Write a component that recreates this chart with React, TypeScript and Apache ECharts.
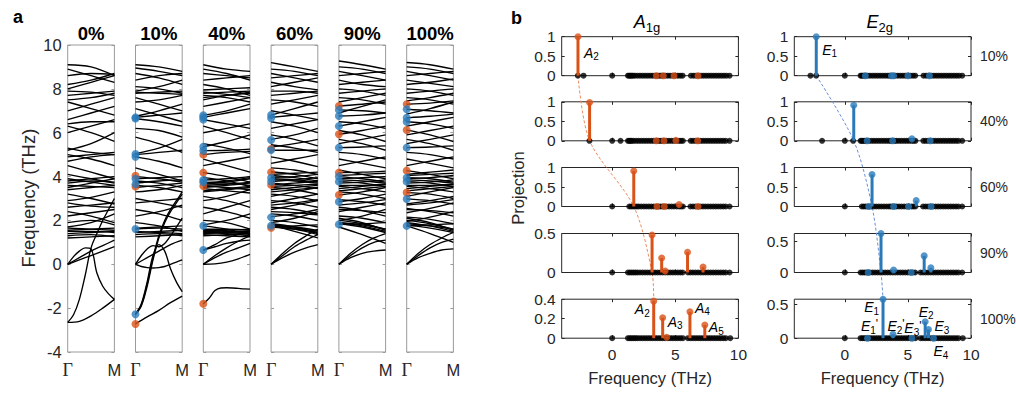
import React, { useEffect, useRef } from 'react';
import * as echarts from 'echarts';

const FONT = '"Liberation Sans", Arial, Helvetica, sans-serif';
const SERIF = '"Liberation Serif", "DejaVu Serif", serif';
const TXT = '#262626';
const ORANGE = '#d95319';
const BLUE = '#2a7ab9';

// ---------- panel a ----------
const dopingLabels = ['0%', '10%', '40%', '60%', '90%', '100%'];
const kTickLabels = ['Γ', 'M'];

// each band: frequencies (THz) at evenly spaced k from Γ to M
const bands0: number[][] = [
  [-2.65, -2.6, -2.35, -2.0, -1.6],
  [-2.65, -2.3, -1.6, -0.5, 0.75, 1.4, 2.0, 2.5, 3.0],
  [0, 0.35, 0.6, 0.75, 0.7, -0.4, -1.0, -1.35, -1.6],
  [0, 0.2, 0.4, 0.6, 0.8],
  [0, 0.3, 0.6, 0.85, 1.1],
  [1.2, 1.25, 1.3], [1.3, 1.35, 1.25], [1.4, 1.45, 1.5], [1.5, 1.5, 1.45], [1.55, 1.6, 1.65],
  [1.65, 1.6, 1.55], [1.7, 1.9, 2.3], [1.9, 2.0, 1.8], [2.2, 2.35, 2.5], [2.4, 2.2, 1.9],
  [2.6, 2.7, 2.8], [2.8, 2.65, 2.6], [2.9, 3.05, 3.3], [3.2, 3.0, 2.75], [3.4, 3.5, 3.6],
  [3.5, 3.7, 3.9], [3.6, 3.55, 3.5], [3.7, 3.8, 3.75], [3.8, 3.9, 4.0], [3.9, 3.75, 3.6],
  [4.1, 3.9, 3.7], [4.5, 4.2, 3.9], [4.7, 4.9, 5.0], [4.9, 5.0, 5.1], [5.0, 4.8, 4.5],
  [5.2, 5.5, 6.0], [5.3, 5.1, 5.0], [6.0, 6.3, 6.6], [6.3, 6.0, 5.6], [6.4, 6.5, 6.5],
  [6.6, 6.9, 7.2], [7.0, 7.3, 7.6], [7.4, 7.1, 6.8], [7.5, 7.6, 7.8], [7.7, 7.8, 7.9],
  [7.9, 7.85, 7.7], [8.0, 8.3, 8.6], [8.2, 8.4, 8.7], [8.6, 8.7, 8.65], [8.9, 8.6, 8.3],
  [9.1, 9.0, 8.6],
];
const bands10: number[][] = [
  [-2.72, -2.4, -2.1, -1.75, -1.45],
  [-2.28, -1.9, -1.0, 0.2, 1.2, 1.9, 2.4, 2.8, 3.2],
  [-2.28, -1.85, -0.9, 0.3, 1.3, 2.0, 2.5, 2.9, 3.3],
  [-2.28, -1.8, -0.8, 0.4, 0.9, 0.6, -0.2, -0.8, -1.25],
  [0, 0.4, 0.7, 0.85, 0.8, 0.95, 1.3, 1.7, 2.1],
  [0, -0.1, -0.15, -0.17, -0.15, -0.1, 0, 0.1, 0.2],
  [0, 0.3, 0.6, 0.9, 1.1],
  [1.25, 1.3, 1.35], [1.35, 1.4, 1.3], [1.45, 1.5, 1.55], [1.5, 1.45, 1.4], [1.6, 1.65, 1.6],
  [1.65, 1.7, 1.75], [1.9, 1.75, 1.5], [2.2, 2.4, 2.7], [2.5, 2.3, 2.0], [2.8, 2.9, 3.0],
  [3.0, 2.8, 2.6], [3.3, 3.4, 3.6], [3.5, 3.6, 3.7], [3.6, 3.5, 3.3], [3.7, 3.8, 3.85],
  [3.8, 3.7, 3.5], [3.9, 3.95, 4.0], [4.0, 3.9, 3.75], [4.4, 4.1, 3.8], [4.9, 4.7, 4.4],
  [5.0, 5.1, 5.2], [5.05, 5.3, 5.7], [5.8, 5.5, 5.1], [6.2, 6.1, 5.8], [6.65, 6.5, 6.3],
  [6.7, 6.8, 6.9], [6.75, 7.0, 7.3], [7.1, 6.8, 6.5], [7.4, 7.5, 7.7], [7.6, 7.3, 7.0],
  [7.8, 7.85, 7.9], [7.85, 7.8, 7.75], [7.9, 8.1, 8.4], [8.1, 8.0, 7.8], [8.4, 8.6, 8.7],
  [8.7, 8.5, 8.2], [8.95, 8.8, 8.6], [9.1, 9.0, 8.8],
];
const bands40: number[][] = [
  [-1.8, -1.55, -1.2, -1.08, -1.07, -1.08, -1.1, -1.12, -1.13],
  [0, 0.02, 0.1, 0.25, 0.45],
  [0, 0.3, 0.55, 0.75, 0.95],
  [0, 0.4, 0.75, 1.05, 1.3],
  [0.65, 0.9, 1.2, 1.35, 1.45],
  [0.65, 0.8, 0.95, 1.05, 1.1],
  [1.3, 1.35, 1.4], [1.4, 1.45, 1.5], [1.45, 1.4, 1.3], [1.5, 1.55, 1.6], [1.55, 1.5, 1.45],
  [1.6, 1.6, 1.55], [1.75, 1.6, 1.35], [1.8, 2.0, 2.3], [2.0, 1.9, 1.6], [2.3, 2.6, 2.9],
  [2.6, 2.4, 2.1], [2.9, 3.1, 3.4], [3.1, 2.9, 2.6], [3.3, 3.4, 3.5], [3.5, 3.6, 3.7],
  [3.57, 3.5, 3.4], [3.65, 3.75, 3.9], [3.74, 3.7, 3.6], [3.84, 3.9, 4.0], [3.95, 3.8, 3.55],
  [4.18, 4.0, 3.75], [4.5, 4.7, 4.9], [4.8, 4.5, 4.2], [5.0, 5.1, 5.15], [5.18, 5.2, 5.25],
  [5.36, 5.6, 5.9], [5.5, 5.3, 5.05], [6.0, 6.2, 6.4], [6.3, 6.0, 5.7], [6.6, 6.4, 6.2],
  [6.7, 6.9, 7.1], [6.8, 7.0, 7.3], [7.2, 7.4, 7.6], [7.5, 7.7, 7.8], [7.7, 7.6, 7.4],
  [7.8, 7.85, 7.9], [7.95, 8.0, 8.05], [8.2, 8.0, 7.7], [8.4, 8.5, 8.6], [8.7, 8.6, 8.5],
  [8.9, 8.7, 8.4], [9.1, 8.9, 8.8],
  [1.35, 1.3, 1.25], [1.42, 1.48, 1.52], [1.52, 1.45, 1.38], [3.35, 3.45, 3.55], [3.45, 3.35, 3.25],
  [3.6, 3.65, 3.75], [3.7, 3.8, 3.95], [7.6, 7.7, 7.85], [7.85, 7.75, 7.6],
];
const bands60: number[][] = [
  [0, 0.3, 0.55, 0.75, 0.9], [0, 0.4, 0.8, 1.1, 1.35], [0, 0.5, 0.95, 1.3, 1.6], [1.8, 1.5, 1.2],
  [1.69, 1.75, 1.8], [1.79, 1.7, 1.55], [1.9, 2.1, 2.4], [2.0, 1.9, 1.7], [2.17, 2.3, 2.5],
  [2.3, 2.2, 2.0], [2.5, 2.7, 2.9], [2.6, 2.5, 2.3], [2.8, 3.0, 3.2], [2.9, 2.8, 2.6],
  [3.1, 3.3, 3.5], [3.2, 3.1, 2.9], [3.4, 3.5, 3.6], [3.5, 3.4, 3.2], [3.62, 3.7, 3.8],
  [3.7, 3.6, 3.45], [3.77, 3.85, 3.95], [3.85, 3.8, 3.7], [3.97, 4.0, 4.1], [4.05, 3.95, 3.8],
  [4.22, 4.1, 3.9], [4.4, 4.3, 4.1], [4.6, 4.8, 5.0], [4.9, 4.7, 4.45], [5.2, 5.2, 5.2],
  [5.34, 5.5, 5.7], [5.45, 5.3, 5.1], [5.7, 5.9, 6.2], [5.9, 5.7, 5.4], [6.2, 6.4, 6.6],
  [6.5, 6.3, 6.0], [6.7, 6.8, 6.9], [6.8, 7.1, 7.4], [7.0, 6.8, 6.6], [7.3, 7.5, 7.7],
  [7.5, 7.4, 7.2], [7.7, 7.8, 7.9], [7.9, 7.9, 7.8], [8.1, 8.3, 8.5], [8.3, 8.1, 7.95],
  [8.5, 8.6, 8.7], [8.7, 8.5, 8.3], [8.9, 8.8, 8.6], [9.2, 9.0, 8.8],
  [1.7, 1.6, 1.45], [1.75, 1.65, 1.5], [1.85, 1.7, 1.4], [1.72, 1.6, 1.35], [3.3, 3.4, 3.5],
  [3.55, 3.6, 3.65], [3.9, 3.85, 3.75], [4.1, 4.15, 4.2], [2.4, 2.35, 2.25], [2.7, 2.8, 2.95],
];
const bands90: number[][] = [
  [0, 0.3, 0.5, 0.6, 0.65], [0, 0.4, 0.75, 1.0, 1.1], [0, 0.5, 0.9, 1.2, 1.4], [1.7, 1.35, 0.95],
  [1.82, 1.85, 1.9], [1.9, 1.8, 1.6], [2.0, 2.2, 2.5], [2.2, 2.1, 1.9], [2.4, 2.6, 2.8],
  [2.6, 2.45, 2.2], [2.85, 3.0, 3.2], [2.95, 2.85, 2.7], [3.16, 3.3, 3.5], [3.3, 3.2, 3.0],
  [3.45, 3.55, 3.65], [3.55, 3.45, 3.3], [3.7, 3.75, 3.85], [3.77, 3.7, 3.55], [3.9, 3.95, 4.0],
  [4.0, 3.9, 3.75], [4.18, 4.2, 4.25], [4.3, 4.1, 3.9], [4.5, 4.7, 4.9], [4.8, 4.6, 4.4],
  [5.1, 5.0, 4.8], [5.32, 5.35, 5.4], [5.5, 5.7, 5.9], [5.7, 5.5, 5.2], [5.93, 6.1, 6.3],
  [6.1, 5.9, 5.6], [6.3, 6.5, 6.7], [6.5, 6.4, 6.2], [6.76, 6.8, 6.9], [6.9, 7.2, 7.5],
  [7.04, 7.0, 6.9], [7.22, 7.3, 7.4], [7.4, 7.6, 7.8], [7.6, 7.5, 7.3], [7.8, 7.9, 8.0],
  [8.0, 7.9, 7.7], [8.2, 8.3, 8.4], [8.4, 8.2, 8.1], [8.6, 8.7, 8.8], [8.8, 8.6, 8.4],
  [9.0, 8.9, 8.7], [9.27, 9.1, 8.9],
  [1.85, 1.7, 1.45], [1.9, 1.75, 1.5], [2.0, 1.85, 1.6], [2.1, 1.9, 1.55], [3.35, 3.45, 3.55],
  [3.6, 3.6, 3.65], [3.85, 3.8, 3.7], [4.05, 4.1, 4.15], [2.5, 2.45, 2.35], [2.7, 2.8, 2.95],
];
const bands100: number[][] = [
  [0, 0.3, 0.5, 0.65, 0.7], [0, 0.4, 0.75, 1.0, 1.15], [0, 0.5, 0.9, 1.2, 1.45], [1.75, 1.4, 1.0],
  [1.75, 1.8, 1.85], [1.85, 1.75, 1.6], [1.95, 2.15, 2.4], [2.15, 2.05, 1.85], [2.35, 2.55, 2.8],
  [2.55, 2.4, 2.2], [2.75, 2.9, 3.1], [2.98, 2.9, 2.75], [3.1, 3.3, 3.5], [3.27, 3.2, 3.0],
  [3.45, 3.55, 3.65], [3.55, 3.45, 3.3], [3.7, 3.75, 3.85], [3.77, 3.7, 3.55], [3.9, 3.95, 4.05],
  [3.95, 3.9, 3.75], [4.1, 4.2, 4.3], [4.27, 4.1, 3.9], [4.5, 4.7, 4.9], [4.8, 4.6, 4.4],
  [5.1, 5.0, 4.8], [5.32, 5.35, 5.4], [5.5, 5.7, 5.9], [5.7, 5.5, 5.2], [5.9, 6.1, 6.3],
  [6.12, 5.9, 5.6], [6.3, 6.5, 6.7], [6.5, 6.4, 6.2], [6.68, 6.75, 6.85], [6.85, 7.1, 7.4],
  [7.07, 7.0, 6.9], [7.3, 7.35, 7.45], [7.45, 7.6, 7.8], [7.6, 7.5, 7.3], [7.8, 7.9, 8.0],
  [8.0, 7.9, 7.7], [8.2, 8.3, 8.45], [8.4, 8.25, 8.1], [8.6, 8.7, 8.8], [8.8, 8.6, 8.4],
  [9.0, 8.9, 8.7], [9.2, 9.1, 8.9],
  [1.8, 1.65, 1.45], [1.9, 1.75, 1.5], [2.0, 1.85, 1.6], [2.1, 1.9, 1.55], [3.35, 3.45, 3.55],
  [3.6, 3.6, 3.65], [3.85, 3.8, 3.7], [4.05, 4.1, 4.15], [2.5, 2.45, 2.35], [2.7, 2.8, 2.95],
];
const allBands = [bands0, bands10, bands40, bands60, bands90, bands100];

// coloured Γ-point modes in panel a
const gammaOrange: number[][] = [
  [], [4.04, 3.54, -2.72], [5.0, 4.18, 3.57, -1.8], [5.26, 4.2, 3.62, 1.67], [7.22, 5.93, 4.18, 3.16], [7.3, 6.12, 4.27, 3.27],
];
const gammaBlue: number[][] = [
  [], [6.7, 6.65, 5.03, 4.9, 3.9, 3.65, 1.61, -2.28], [6.8, 6.7, 6.6, 5.36, 5.18, 3.84, 3.74, 1.76, 0.65],
  [6.81, 6.66, 5.67, 5.21, 3.95, 3.77, 2.14, 1.76], [7.04, 6.76, 6.3, 5.32, 4.0, 3.77, 2.85, 1.82],
  [7.07, 6.68, 6.5, 5.32, 3.95, 3.77, 2.98, 1.75],
];

// ---------- panel b ----------
const rowLabels = ['10%', '40%', '60%', '90%', '100%'];
const projXTicks = [0, 5, 10];
const modes10 = [-2.72, -2.27, 0, 1.25, 1.35, 1.45, 1.55, 1.65, 1.8, 2.0, 2.2, 2.4, 2.6, 2.8, 3.0, 3.2, 3.4, 3.55, 3.7, 3.85, 4.0, 4.2, 4.4, 4.6, 4.8, 5.0, 5.2, 5.4, 5.58, 6.24, 6.45, 6.65, 6.85, 7.05, 7.25, 7.45, 7.65, 7.85, 8.05, 8.25, 8.45, 8.65, 8.85, 9.05, 9.3];
const modes40 = [-1.8, 0, 0.66, 1.25, 1.35, 1.45, 1.55, 1.7, 1.9, 2.1, 2.3, 2.5, 2.7, 2.9, 3.1, 3.3, 3.5, 3.65, 3.8, 3.95, 4.1, 4.3, 4.5, 4.7, 4.9, 5.1, 5.3, 5.45, 5.6, 6.22, 6.4, 6.6, 6.8, 7.0, 7.2, 7.4, 7.6, 7.8, 8.0, 8.2, 8.4, 8.6, 8.8, 9.0, 9.3];
const modes60 = [0, 1.35, 1.5, 1.65, 1.8, 1.95, 2.1, 2.3, 2.5, 2.7, 2.9, 3.1, 3.3, 3.5, 3.65, 3.8, 3.95, 4.1, 4.3, 4.5, 4.7, 4.9, 5.1, 5.3, 5.45, 5.6, 6.2, 6.4, 6.6, 6.8, 7.0, 7.2, 7.4, 7.6, 7.8, 8.0, 8.2, 8.4, 8.6, 8.8, 9.0, 9.3];
const modes90 = [0, 1.25, 1.4, 1.55, 1.7, 1.85, 2.0, 2.2, 2.4, 2.6, 2.8, 3.0, 3.2, 3.4, 3.6, 3.8, 4.0, 4.2, 4.4, 4.6, 4.8, 5.0, 5.2, 5.4, 5.58, 6.0, 6.2, 6.4, 6.6, 6.8, 7.0, 7.2, 7.4, 7.6, 7.8, 8.0, 8.2, 8.4, 8.6, 8.8, 9.0, 9.3];
const modes100 = [0, 1.25, 1.4, 1.55, 1.7, 1.85, 2.0, 2.2, 2.4, 2.6, 2.8, 3.0, 3.2, 3.4, 3.6, 3.8, 4.0, 4.2, 4.4, 4.6, 4.8, 5.0, 5.2, 5.4, 5.6, 6.0, 6.2, 6.4, 6.6, 6.8, 7.0, 7.2, 7.4, 7.6, 7.8, 8.0, 8.2, 8.4, 8.6, 8.8, 9.0, 9.35];
const modesByRow = [modes10, modes40, modes60, modes90, modes100];

// [frequency, projection]; first entry of each row is the main peak
const a1gStems: number[][][] = [
  [[-2.71, 1], [3.5, 0], [4.05, 0], [4.9, 0], [6.8, 0]],
  [[-1.79, 0.98], [3.5, 0], [4.1, 0], [5.05, 0.01], [6.77, 0]],
  [[1.71, 0.91], [3.55, 0], [4.13, 0], [5.3, 0.05], [6.8, 0]],
  [[3.16, 0.48], [3.92, 0.185], [4.2, 0.02], [5.97, 0.26], [7.2, 0.07]],
  [[3.29, 0.38], [4.0, 0.21], [4.32, 0.01], [6.16, 0.27], [7.34, 0.135]],
];
const e2gStems: number[][][] = [
  [[-2.26, 1], [1.63, 0], [3.69, 0], [3.87, 0], [5.0, 0], [6.71, 0]],
  [[0.71, 0.91], [1.77, 0], [3.79, 0], [5.32, 0.05], [6.77, 0]],
  [[2.16, 0.82], [1.9, 0], [3.87, 0], [5.05, 0], [5.66, 0.15], [6.84, 0]],
  [[2.87, 0.634], [1.85, 0], [3.87, 0.04], [5.27, 0], [6.29, 0.27], [6.82, 0.075]],
  [[3.03, 0.58], [1.8, 0], [3.82, 0.06], [5.32, 0], [6.37, 0.245], [6.63, 0.13], [7.03, 0]],
];
const a1gMax = [1, 1, 1, 0.5, 0.4];
const e2gMax = [1, 1, 1, 0.634, 0.58];
const a1gYTicks = [[0, 0.5, 1], [0, 0.5, 1], [0, 0.5, 1], [0, 0.5], [0, 0.2, 0.4]];
const e2gYTicks = [[0, 0.5, 1], [0, 0.5, 1], [0, 0.5, 1], [0, 0.5], [0, 0.5]];

// stem labels: column, row, index of stem in that row
const stemLabels = [
  { c: 0, r: 0, i: 0, text: '{i|A}{s|2}', dx: 6, dy: 16, align: 'left' },
  { c: 0, r: 4, i: 0, text: '{i|A}{s|2}', dx: -4, dy: 8, align: 'right' },
  { c: 0, r: 4, i: 1, text: '{i|A}{s|3}', dx: 5, dy: 4, align: 'left' },
  { c: 0, r: 4, i: 3, text: '{i|A}{s|4}', dx: 5, dy: -4, align: 'left' },
  { c: 0, r: 4, i: 4, text: '{i|A}{s|5}', dx: 4, dy: 2, align: 'left' },
  { c: 1, r: 0, i: 0, text: '{i|E}{s|1}', dx: 6, dy: 13, align: 'left' },
  { c: 1, r: 4, i: 0, text: '{i|E}{s|1}', dx: -4, dy: 8, align: 'right' },
  { c: 1, r: 4, i: 1, text: "{i|E}{s|1}{p|'}", dx: 2, dy: -12, align: 'center' },
  { c: 1, r: 4, i: 2, text: "{i|E}{s|2}{p|'}", dx: 3, dy: -8, align: 'center' },
  { c: 1, r: 4, i: 3, text: "{i|E}{s|3}{p|'}", dx: 1, dy: -10, align: 'center' },
  { c: 1, r: 4, i: 4, text: '{i|E}{s|2}', dx: 1, dy: -10, align: 'center' },
  { c: 1, r: 4, i: 5, text: '{i|E}{s|3}', dx: 6, dy: -3, align: 'left' },
  { c: 1, r: 4, i: 6, text: '{i|E}{s|4}', dx: 0, dy: 13, align: 'left' },
];

export default function App() {
  const ref = useRef<HTMLDivElement>(null);
  useEffect(() => {
    const el = ref.current;
    if (!el) return;
    const chart = echarts.init(el, null, { renderer: 'svg' });
    const grid: any[] = [];
    const xAxis: any[] = [];
    const yAxis: any[] = [];
    const series: any[] = [];
    const noLine = { show: false, onZero: false };

    // ---- panel a ----
    const A_TOP = 45, A_H = 307, A_W = 46.7;
    const aLeft = (i: number) => 67.7 + i * 67.8;
    const aTick = { show: true, inside: true, length: 3, lineStyle: { color: '#9b9b9b' } };
    allBands.forEach((bands, i) => {
      const gi = grid.length;
      grid.push({ left: aLeft(i), top: A_TOP, width: A_W, height: A_H, show: true, borderColor: '#9b9b9b', borderWidth: 1, backgroundColor: 'rgba(0,0,0,0)' });
      const xi = xAxis.length;
      xAxis.push({
        type: 'value', gridIndex: gi, min: 0, max: 1, position: 'bottom',
        axisLine: noLine, axisTick: { show: false }, splitLine: { show: false },
        axisLabel: {
          customValues: [0, 1], margin: 9,
          formatter: (v: number) => (v === 0 ? '{g|' + kTickLabels[0] + '}' : '{m|' + kTickLabels[1] + '}'),
          rich: { g: { fontFamily: SERIF, fontSize: 18, color: TXT }, m: { fontFamily: FONT, fontSize: 16.5, color: TXT } },
        },
      });
      const yi = yAxis.length;
      yAxis.push({
        type: 'value', gridIndex: gi, position: 'left', min: -4, max: 10, interval: 2,
        axisLine: noLine, splitLine: { show: false }, axisTick: aTick,
        axisLabel: { show: i === 0, fontFamily: FONT, fontSize: 16.5, color: TXT, margin: 6 },
      });
      yAxis.push({
        type: 'value', gridIndex: gi, position: 'right', min: -4, max: 10, interval: 2,
        axisLine: noLine, splitLine: { show: false }, axisTick: aTick, axisLabel: { show: false },
      });
      bands.forEach((b) => {
        series.push({
          type: 'line', xAxisIndex: xi, yAxisIndex: yi, silent: true, symbol: 'none', smooth: 0.35, z: 2,
          data: b.map((v, j) => [j / (b.length - 1), v]),
          lineStyle: { color: '#000', width: 1.35 },
        });
      });
      series.push({
        type: 'scatter', xAxisIndex: xi, yAxisIndex: yi, clip: false, silent: true, z: 5, symbolSize: 8,
        data: gammaOrange[i].map((f) => [0, f]), itemStyle: { color: ORANGE },
      });
      series.push({
        type: 'scatter', xAxisIndex: xi, yAxisIndex: yi, clip: false, silent: true, z: 6, symbolSize: 8,
        data: gammaBlue[i].map((f) => [0, f]), itemStyle: { color: BLUE },
      });
    });

    // ---- panel b ----
    const bLeft = [561.7, 794.3];
    const B_W = 176.7, B_H = 39;
    const rowTops = [36.7, 101.8, 167.5, 233.5, 299.2];
    const stemSets = [a1gStems, e2gStems];
    const maxes = [a1gMax, e2gMax];
    const yTicks = [a1gYTicks, e2gYTicks];
    const colors = [ORANGE, BLUE];
    const bAxes: { xi: number; yi: number }[][] = [[], []];
    const bTick = (vals: number[]) => ({ show: true, inside: true, length: 3, customValues: vals, lineStyle: { color: TXT } });
    for (let c = 0; c < 2; c++) {
      for (let r = 0; r < 5; r++) {
        const gi = grid.length;
        grid.push({ left: bLeft[c], top: rowTops[r], width: B_W, height: B_H, show: true, borderColor: TXT, borderWidth: 1, backgroundColor: 'rgba(0,0,0,0)' });
        const xi = xAxis.length;
        xAxis.push({
          type: 'value', gridIndex: gi, position: 'bottom', min: -4, max: 10, axisLine: noLine, splitLine: { show: false },
          axisTick: bTick(projXTicks),
          axisLabel: { show: r === 4, customValues: projXTicks, fontFamily: FONT, fontSize: 15.5, color: TXT, margin: 8 },
        });
        xAxis.push({
          type: 'value', gridIndex: gi, position: 'top', min: -4, max: 10, axisLine: noLine, splitLine: { show: false },
          axisTick: bTick(projXTicks), axisLabel: { show: false },
        });
        const yi = yAxis.length;
        yAxis.push({
          type: 'value', gridIndex: gi, position: 'left', min: 0, max: maxes[c][r], axisLine: noLine, splitLine: { show: false },
          axisTick: bTick(yTicks[c][r]),
          axisLabel: { customValues: yTicks[c][r], fontFamily: FONT, fontSize: 15.5, color: TXT, margin: 6 },
        });
        yAxis.push({
          type: 'value', gridIndex: gi, position: 'right', min: 0, max: maxes[c][r], axisLine: noLine, splitLine: { show: false },
          axisTick: bTick(yTicks[c][r]), axisLabel: { show: false },
        });
        bAxes[c].push({ xi, yi });
        const color = colors[c];
        series.push({
          type: 'scatter', xAxisIndex: xi, yAxisIndex: yi, clip: false, silent: true, z: 3, symbolSize: 6,
          data: modesByRow[r].map((f) => [f, 0]), itemStyle: { color: '#000' },
        });
        series.push({
          type: 'custom', xAxisIndex: xi, yAxisIndex: yi, clip: false, silent: true, z: 4,
          data: stemSets[c][r],
          renderItem: (_p: any, api: any) => {
            const x = api.value(0), y = api.value(1);
            const p0 = api.coord([x, 0]);
            const p1 = api.coord([x, y]);
            return { type: 'line', shape: { x1: p0[0], y1: p0[1], x2: p1[0], y2: p1[1] }, style: { stroke: color, lineWidth: 3 } };
          },
        });
        series.push({
          type: 'scatter', xAxisIndex: xi, yAxisIndex: yi, clip: false, silent: true, z: 5, symbolSize: 7,
          data: stemSets[c][r], itemStyle: { color },
        });
      }
    }

    chart.setOption({ animation: false, grid, xAxis, yAxis, series });

    // ---- annotations ----
    const P = (c: number, r: number, v: number[]) =>
      chart.convertToPixel({ xAxisIndex: bAxes[c][r].xi, yAxisIndex: bAxes[c][r].yi } as any, v) as unknown as number[];
    const graphic: any[] = [];
    const txt = (x: number, y: number, text: string, size: number, extra: any = {}) => ({
      type: 'text', x, y, silent: true, z: 20, rotation: extra.rotation || 0,
      style: { text, fontFamily: FONT, fontSize: size, fill: extra.fill || TXT, textAlign: extra.align || 'center', textVerticalAlign: 'middle', fontWeight: extra.weight || 'normal', rich: extra.rich },
    });
    graphic.push(txt(13, 16.5, 'a', 18, { align: 'left', weight: 'bold', fill: '#000' }));
    graphic.push(txt(511, 18, 'b', 18, { align: 'left', weight: 'bold', fill: '#000' }));
    dopingLabels.forEach((d, i) => graphic.push(txt(aLeft(i) + A_W / 2, 33.5, d, 18.5, { weight: 'bold', fill: '#000' })));
    graphic.push(txt(28, 198, 'Frequency (THz)', 18.5, { rotation: Math.PI / 2 }));
    graphic.push(txt(518, 188, 'Projection', 16.5, { rotation: Math.PI / 2 }));
    graphic.push(txt(bLeft[0] + B_W / 2, 378, 'Frequency (THz)', 16.5));
    graphic.push(txt(bLeft[1] + B_W / 2, 378, 'Frequency (THz)', 16.5));
    const titleRich = {
      i: { fontFamily: FONT, fontSize: 18, fontStyle: 'italic', fill: '#000' },
      s: { fontFamily: FONT, fontSize: 13, fill: '#000', padding: [10, 0, 0, 0] },
    };
    graphic.push(txt(bLeft[0] + B_W / 2 - 3, 22, '{i|A}{s|1g}', 18, { rich: titleRich }));
    graphic.push(txt(bLeft[1] + B_W / 2 - 3, 22, '{i|E}{s|2g}', 18, { rich: titleRich }));
    rowLabels.forEach((l, r) => graphic.push(txt(980, rowTops[r] + B_H / 2, l, 14, { align: 'left' })));

    const dashColors = ['#ee8a60', '#6b8fd6'];
    for (let c = 0; c < 2; c++) {
      const pts = stemSets[c].map((row, r) => P(c, r, r === 4 ? row[0] : [row[0][0], 0]));
      graphic.push({
        type: 'polyline', silent: true, z: 1,
        shape: { points: pts, smooth: 0.3 },
        style: { stroke: dashColors[c], lineWidth: 1, lineDash: [3, 2], fill: 'none' },
      });
    }
    const labRich = {
      i: { fontFamily: FONT, fontSize: 14, fontStyle: 'italic', fill: '#000' },
      s: { fontFamily: FONT, fontSize: 10, fill: '#000', padding: [8, 0, 0, 0] },
      p: { fontFamily: FONT, fontSize: 12, fill: '#000', padding: [0, 0, 5, 0] },
    };
    stemLabels.forEach((l) => {
      const p = P(l.c, l.r, stemSets[l.c][l.r][l.i]);
      graphic.push(txt(p[0] + l.dx, p[1] + l.dy, l.text, 14, { align: l.align, rich: labRich }));
    });
    chart.setOption({ graphic });

    return () => chart.dispose();
  }, []);
  return <div ref={ref} style={{ position: 'fixed', left: 0, top: 0, width: 1016, height: 393, background: '#fff' }} />;
}
